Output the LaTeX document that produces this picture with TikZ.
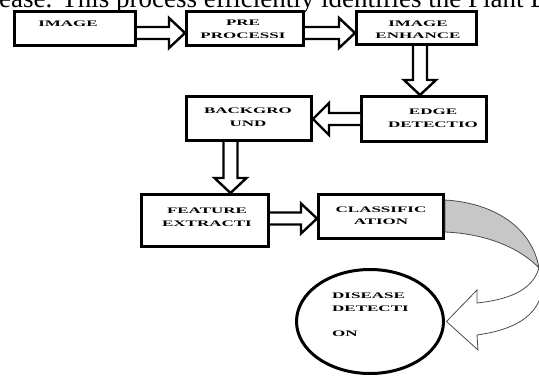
\documentclass[tikz,border=0pt]{standalone}
\usepackage{fontspec}
\setmainfont{Liberation Serif}
\newfontfamily\blockfont{Liberation Serif}[FakeStretch=2.0]
\usetikzlibrary{calc,shapes.geometric}
\newcommand\rarrow[2]{\draw[blk] let \p1=(#1), \p2=(#2) in (\x1,\y1+6pt) -- (\x2-16pt,\y1+6pt) -- (\x2-16pt,\y1+15pt) -- (\x2,\y1) -- (\x2-16pt,\y1-15pt) -- (\x2-16pt,\y1-6pt) -- (\x1,\y1-6pt);}
\newcommand\larrow[2]{\draw[blk] let \p1=(#1), \p2=(#2) in (\x1,\y1+6pt) -- (\x2+16pt,\y1+6pt) -- (\x2+16pt,\y1+16pt) -- (\x2,\y1) -- (\x2+16pt,\y1-16pt) -- (\x2+16pt,\y1-6pt) -- (\x1,\y1-6pt);}
\newcommand\darrow[2]{\draw[blk] let \p1=(#1), \p2=(#2) in (\x1-7pt,\y1) -- (\x1-7pt,\y2+15pt) -- (\x1-16pt,\y2+15pt) -- (\x1,\y2) -- (\x1+16pt,\y2+15pt) -- (\x1+7pt,\y2+15pt) -- (\x1+7pt,\y1);}
\begin{document}
\begin{tikzpicture}[x=1pt,y=-1pt,
  box/.style={draw, line width=3pt, fill=white, inner sep=0pt},
  blk/.style={draw, line width=2.4pt, fill=white, line join=miter},
  lbl/.style={font=\blockfont\bfseries\fontsize{8.5}{12.5}\selectfont, align=center, inner sep=0pt},
  curv/.style={draw=black!70, line width=0.8pt}]
\useasboundingbox (0,0) rectangle (539,376);
\clip (0,0) rectangle (539,376);
\fill[white] (0,0) rectangle (539,376);
\node[anchor=base west, inner sep=0pt, font=\fontsize{27}{30}\selectfont] (top) at (-1,7) {ease. This process efficiently identifies the Plant Di};
% boxes
\node[box, minimum width=121, minimum height=34] (A) at (75,28.5) {};
\node[box, minimum width=117, minimum height=34] (B) at (245,28.5) {};
\node[box, minimum width=120, minimum height=33] (C) at (416.5,28) {};
\node[box, minimum width=125, minimum height=45] (D) at (424,119) {};
\node[box, minimum width=125, minimum height=44] (E) at (249,118.5) {};
\node[box, minimum width=127, minimum height=52] (F) at (205,220.5) {};
\node[box, minimum width=125, minimum height=44] (G) at (381,216.5) {};
\node[box, ellipse, minimum width=147, minimum height=104] (H) at (370,321.5) {};
% labels
\node[lbl] (tA) at (68,24) {IMAGE};
\node[lbl] (tB) at (243,29.5) {PRE\\PROCESSI};
\node[lbl] (tC) at (418,29.5) {IMAGE\\ENHANCE};
\node[lbl] (tD) at (433,118) {EDGE\\DETECTIO};
\node[lbl] (tE) at (248,117) {BACKGRO\\UND};
\node[lbl] (tF) at (207,217) {FEATURE\\EXTRACTI};
\node[lbl] (tG) at (381,215.5) {CLASSIFIC\\ATION};
\node[lbl, anchor=north west, align=left] (tH) at (332,293) {DISEASE\\DETECTI\\[12.5pt]ON};
% block arrows
\rarrow{[yshift=-4.5pt]A.east}{B.west}
\rarrow{[yshift=-4.5pt]B.east}{C.west}
\darrow{[xshift=3.5pt]C.south}{D.north}
\larrow{D.west}{E.east}
\darrow{[xshift=-18.5pt]E.south}{F.north}
\rarrow{[yshift=2pt]F.east}{G.west}
% curved arrow
\filldraw[curv, fill=black!22] ($(G.east)+(0,-16.5)$) .. controls (495,203) and (532,228) .. (539,268)
  .. controls (522,250) and (490,234) .. ($(G.east)+(0,15.5)$) -- cycle;
\filldraw[curv, fill=white] (539,268) .. controls (532,292) and (505,300) .. (477,303) -- (477,290) -- ($(H.east)+(1.5,0)$)
  -- (478,350) -- (477,335) .. controls (512,330) and (538,318) .. (543,288) .. controls (543,280) and (541,272) .. (539,268) -- cycle;
\end{tikzpicture}
\end{document}
